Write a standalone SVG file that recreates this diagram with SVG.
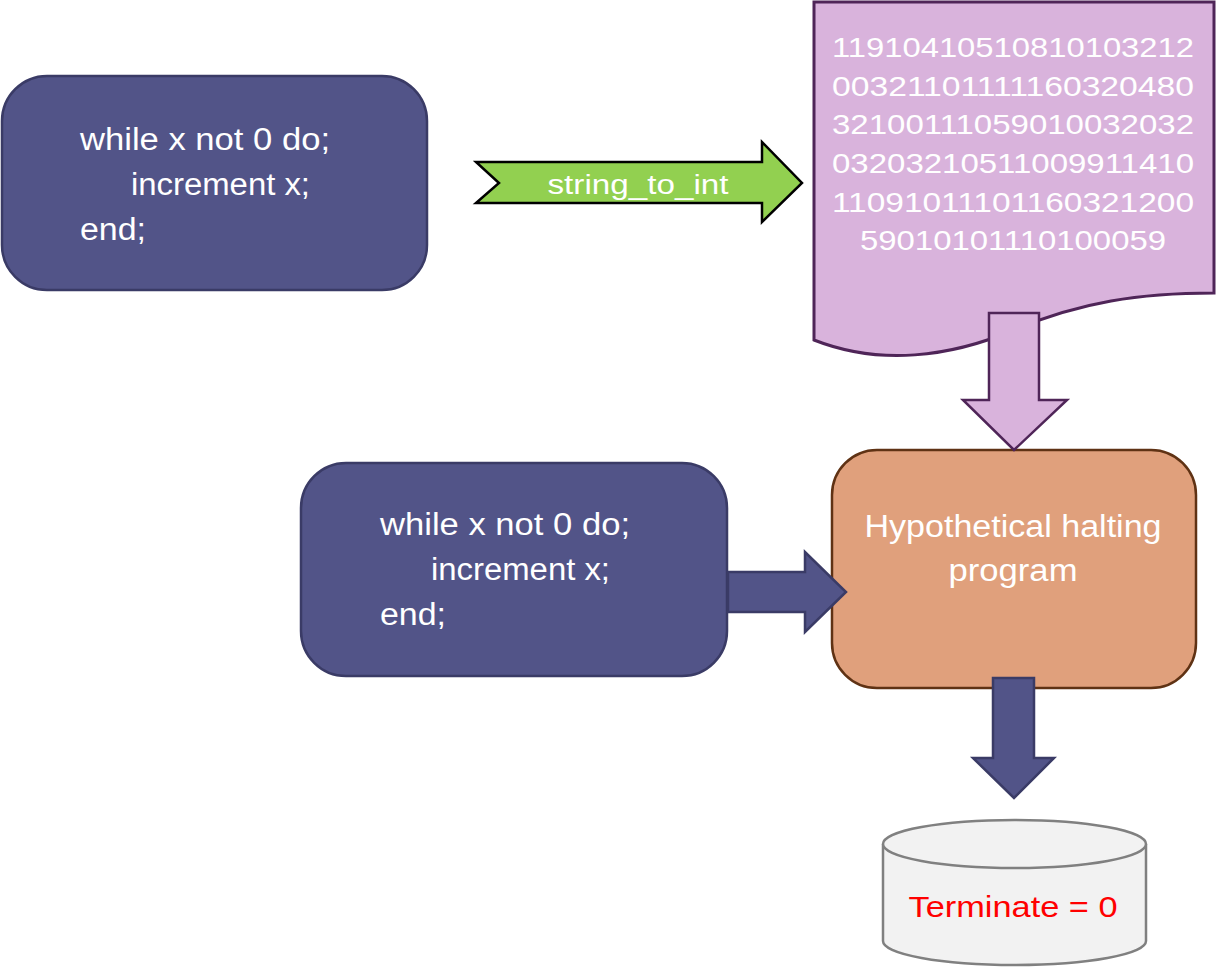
<svg xmlns="http://www.w3.org/2000/svg" width="1216" height="967" viewBox="0 0 1216 967">
<style>
.code{fill:#525488;stroke:#3a3b66;stroke-width:2.5}
.t{font-family:"Liberation Sans","DejaVu Sans",sans-serif;fill:#ffffff;font-size:31px}
.num{font-family:"Liberation Sans","DejaVu Sans",sans-serif;fill:#ffffff;font-size:28px;text-anchor:middle}
.navy{fill:#525488;stroke:#3a3b66;stroke-width:2.5;stroke-linejoin:miter}
</style>
<rect width="1216" height="967" fill="#ffffff"/>
<g id="code1">
<rect class="code" x="2" y="76" width="425" height="214" rx="45" ry="45"/>
<text class="t" x="80" y="150" textLength="250" lengthAdjust="spacingAndGlyphs">while x not 0 do;</text>
<text class="t" x="131" y="195" textLength="179" lengthAdjust="spacingAndGlyphs">increment x;</text>
<text class="t" x="80" y="240" textLength="66" lengthAdjust="spacingAndGlyphs">end;</text>
</g>
<g id="document">
<path d="M814,2 H1214 V293 C1140,293 1080,302 1014,330 C950,357 880,366 814,340 Z" fill="#d9b3dc" stroke="#4f2558" stroke-width="3"/>
<text class="num" x="1013" y="57" textLength="362" lengthAdjust="spacingAndGlyphs">11910410510810103212</text>
<text class="num" x="1013" y="96" textLength="362" lengthAdjust="spacingAndGlyphs">00321101111160320480</text>
<text class="num" x="1013" y="134" textLength="362" lengthAdjust="spacingAndGlyphs">32100111059010032032</text>
<text class="num" x="1013" y="173" textLength="362" lengthAdjust="spacingAndGlyphs">03203210511009911410</text>
<text class="num" x="1013" y="212" textLength="362" lengthAdjust="spacingAndGlyphs">11091011101160321200</text>
<text class="num" x="1013" y="250" textLength="306" lengthAdjust="spacingAndGlyphs">59010101110100059</text>
</g>
<g id="halting">
<rect x="832" y="450" width="364" height="238" rx="45" ry="45" fill="#e0a07c" stroke="#5f3214" stroke-width="2.5"/>
<text class="t" x="1013" y="537" text-anchor="middle" textLength="297" lengthAdjust="spacingAndGlyphs">Hypothetical halting</text>
<text class="t" x="1013" y="581" text-anchor="middle" textLength="129" lengthAdjust="spacingAndGlyphs">program</text>
</g>
<g id="code2">
<rect class="code" x="301" y="463" width="426" height="213" rx="45" ry="45"/>
<text class="t" x="380" y="535" textLength="250" lengthAdjust="spacingAndGlyphs">while x not 0 do;</text>
<text class="t" x="431" y="580" textLength="179" lengthAdjust="spacingAndGlyphs">increment x;</text>
<text class="t" x="380" y="625" textLength="66" lengthAdjust="spacingAndGlyphs">end;</text>
</g>
<g id="result">
<path d="M883,844 V941 A131.5,24 0 0 0 1146,941 V844" fill="#f2f2f2" stroke="#808080" stroke-width="2.5"/>
<ellipse cx="1014.5" cy="844" rx="131.5" ry="24" fill="#f2f2f2" stroke="#808080" stroke-width="2.5"/>
<text x="1013" y="917" text-anchor="middle" font-family="Liberation Sans, DejaVu Sans, sans-serif" font-size="30" fill="#ff0000" textLength="209" lengthAdjust="spacingAndGlyphs">Terminate = 0</text>
</g>
<g id="connectors">
<g id="string_to_int">
<path d="M476,162 H762 V142 L802,183 L762,222 V203 H476 L499,183 Z" fill="#92d050" stroke="#000000" stroke-width="2.5"/>
<text x="638" y="194" text-anchor="middle" font-family="Liberation Sans, DejaVu Sans, sans-serif" font-size="27" fill="#ffffff" textLength="181" lengthAdjust="spacingAndGlyphs">string_to_int</text>
</g>
<path d="M989,313 H1039 V400 H1067 L1014,450 L963,400 H989 Z" fill="#d9b3dc" stroke="#4f2558" stroke-width="2.5"/>
<path class="navy" d="M728,572 H805 V552 L846,592 L805,632 V612 H728 Z"/>
<path class="navy" d="M993,678 H1034 V758 H1054 L1014,798 L973,758 H993 Z"/>
</g>
</svg>
